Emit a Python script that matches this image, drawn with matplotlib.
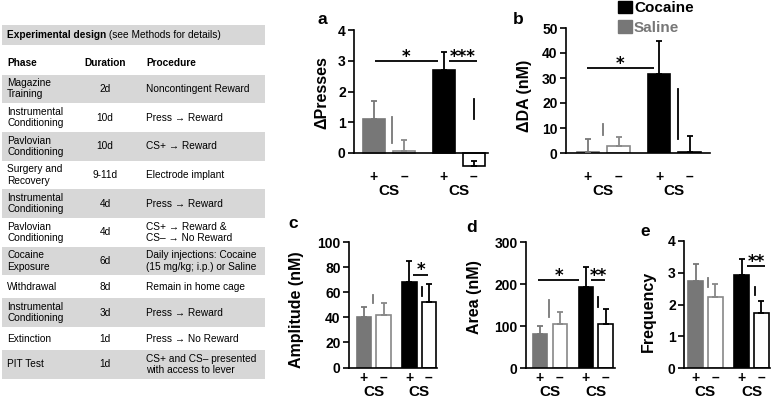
import matplotlib
matplotlib.use("Agg")
import matplotlib.pyplot as plt
import matplotlib.transforms as mtransforms
from matplotlib.patches import Patch, Rectangle
import numpy as np

plt.rcParams["font.family"] = ["Liberation Sans", "DejaVu Sans"]

# ---- table data ----
table_title = "Experimental design"
table_note = " (see Methods for details)"
headers = ["Phase", "Duration", "Procedure"]
phases = ["Magazine\nTraining", "Instrumental\nConditioning", "Pavlovian\nConditioning",
          "Surgery and\nRecovery", "Instrumental\nConditioning", "Pavlovian\nConditioning",
          "Cocaine\nExposure", "Withdrawal", "Instrumental\nConditioning", "Extinction",
          "PIT Test"]
durations = ["2d", "10d", "10d", "9-11d", "4d", "4d", "6d", "8d", "3d", "1d", "1d"]
procedures = ["Noncontingent Reward", "Press \u2192 Reward", "CS+ \u2192 Reward",
              "Electrode implant", "Press \u2192 Reward",
              "CS+ \u2192 Reward &\nCS\u2013 \u2192 No Reward",
              "Daily injections: Cocaine\n(15 mg/kg; i.p.) or Saline",
              "Remain in home cage", "Press \u2192 Reward", "Press \u2192 No Reward",
              "CS+ and CS\u2013 presented\nwith access to lever"]

# ---- bar data: Saline CS+, Saline CS-, Cocaine CS+, Cocaine CS- ----
cs_labels = ["+", "\u2013", "+", "\u2013"]
legend_labels = ["Cocaine", "Saline"]

presses = [1.1, 0.06, 2.7, -0.41]
presses_err = [0.58, 0.36, 0.57, 0.16]
da = [0.5, 2.9, 31.5, 0.3]
da_err = [5.1, 3.6, 13.3, 6.6]
amplitude = [40, 42, 68.5, 52.5]
amplitude_err = [8.6, 9.5, 16.5, 14]
area = [82, 105, 192, 105]
area_err = [19, 29, 49, 35]
frequency = [2.75, 2.23, 2.93, 1.74]
frequency_err = [0.52, 0.42, 0.49, 0.37]

# significance bars: (x_start, x_end, y, label)
sig_a = [(0.03, 2.13, 3.0, "*"), (2.5, 3.43, 3.0, "***")]
sig_b = [(-0.03, 2.16, 34, "*")]
sig_c = [(2.52, 3.28, 74, "*")]
sig_d = [(-0.1, 1.98, 209, "*"), (2.59, 3.3, 209, "**")]
sig_e = [(2.6, 3.5, 3.21, "**")]

# short vertical marks: (x, y_low, y_high)
marks_a = [(0.6, 0.32, 1.16), (3.33, 1.1, 1.77)]
marks_b = [(0.49, 7.2, 11.6), (2.95, 5.6, 25.6)]
marks_c = [(0.46, 51, 58), (2.97, 57, 64.5)]
marks_d = [(0.46, 121, 162), (2.94, 145, 169)]
marks_e = [(0.63, 2.56, 2.84), (3.0, 2.3, 2.54)]

xpos = np.array([0, 1, 2.33, 3.33])
face = ["#777777", "white", "black", "white"]
edge = ["#777777", "#888888", "black", "black"]
mark_col = ["#777777", "black"]

W, H = 776, 400
fig = plt.figure(figsize=(W / 100, H / 100), dpi=100)

# ---------------- table ----------------
tab = fig.add_axes([0, 0, 1, 1])
tab.set_xlim(0, W)
tab.set_ylim(H, 0)
tab.set_axis_off()
gray = "#d7d7d7"
fs = 7.3

tab.add_patch(Rectangle((2, 25), 263, 20, color=gray, lw=0))
t1 = tab.text(7, 35, table_title, fontsize=fs, fontweight="bold", va="center")
tab.annotate(table_note, xy=(1, 0), xycoords=t1, va="bottom", fontsize=fs)

tab.text(7, 63, headers[0], fontsize=fs, fontweight="bold", va="center")
tab.text(105, 63, headers[1], fontsize=fs, fontweight="bold", va="center", ha="center")
tab.text(146, 63, headers[2], fontsize=fs, fontweight="bold", va="center")

y = 74.5
for i in range(len(phases)):
    nl = max(phases[i].count("\n"), procedures[i].count("\n")) + 1
    h = 28.7 if nl == 2 else 23
    if i % 2 == 0:
        tab.add_patch(Rectangle((2, y), 263, h, color=gray, lw=0))
    yc = y + h / 2
    tab.text(7, yc, phases[i], fontsize=fs, va="center", linespacing=1.15)
    tab.text(105, yc, durations[i], fontsize=fs, va="center", ha="center")
    tab.text(146, yc, procedures[i], fontsize=fs, va="center", linespacing=1.15)
    y += h

# ---------------- bar panels ----------------
def panel(vals, errs, sig, marks, left, right, y0, ytop, ymax, ymin, c0, unit,
          yticks, ylabel, ylab_xy, letter, letter_xy, lab_y):
    ppu = (y0 - ytop) / ymax
    ybot = y0 + (0 - ymin) * ppu
    ax = fig.add_axes([left / W, 1 - ybot / H, (right - left) / W, (ybot - ytop) / H])
    ax.set_xlim((left - c0) / unit, (right - c0) / unit)
    ax.set_ylim(ymin, ymax)
    ax.patch.set_alpha(0)
    for k in range(4):
        ax.bar(xpos[k], vals[k], width=0.73, color=face[k], edgecolor=edge[k],
               linewidth=1.2, zorder=2)
        ax.errorbar(xpos[k], vals[k], yerr=[[0], [errs[k]]], fmt="none",
                    ecolor=edge[k] if k != 1 else "#888888", elinewidth=1.3,
                    capsize=2.5, capthick=1.3, zorder=3)
    for x1, x2, yy, s in sig:
        ax.plot([x1, x2], [yy, yy], color="black", lw=1.3, solid_capstyle="butt")
        ax.annotate(s, xy=((x1 + x2) / 2, yy), xytext=(0, -3.5), textcoords="offset points",
                    ha="center", va="bottom", fontsize=12, fontweight="bold",
                    family="DejaVu Sans")
    for k, (mx, lo, hi) in enumerate(marks):
        ax.plot([mx, mx], [lo, hi], color=mark_col[k], lw=1.3)
    for s in ["top", "right"]:
        ax.spines[s].set_visible(False)
    ax.spines["bottom"].set_position(("data", 0))
    ax.spines["left"].set_bounds(0, ymax)
    for s in ["left", "bottom"]:
        ax.spines[s].set_linewidth(1.2)
    ax.set_yticks(yticks)
    ax.set_xticks([])
    ax.tick_params(axis="y", length=4, width=1.2, pad=2, labelsize=10)
    for t in ax.get_yticklabels():
        t.set_fontweight("bold")
    tr = mtransforms.blended_transform_factory(ax.transData, fig.transFigure)
    for k in range(4):
        fig.text(xpos[k], 1 - lab_y / H, cs_labels[k], transform=tr, ha="center",
                 va="center", fontsize=10, fontweight="bold")
    for k in (0, 2):
        fig.text((xpos[k] + xpos[k + 1]) / 2, 1 - (lab_y + 14) / H, "CS", transform=tr,
                 ha="center", va="center", fontsize=11, fontweight="bold")
    fig.text(ylab_xy[0] / W, 1 - ylab_xy[1] / H, ylabel, rotation=90, ha="center",
             va="center", fontsize=11.5, fontweight="bold")
    fig.text(letter_xy[0] / W, 1 - letter_xy[1] / H, letter, ha="center", va="center",
             fontsize=12.5, fontweight="bold")
    return ax


panel(presses, presses_err, sig_a, marks_a, 354, 488, 153, 30, 4, -0.5, 374, 30,
      [0, 1, 2, 3, 4], "\u0394Presses", (322, 93), "a", (322, 20), 177)
panel(da, da_err, sig_b, marks_b, 566, 710, 153, 28, 50, 0, 588, 30.5,
      [0, 10, 20, 30, 40, 50], "\u0394DA (nM)", (525, 96), "b", (518, 20), 177)
panel(amplitude, amplitude_err, sig_c, marks_c, 349, 437, 367.5, 242, 100, 0, 364, 19.5,
      [0, 20, 40, 60, 80, 100], "Amplitude (nM)", (297, 310), "c", (293, 223), 378)
panel(area, area_err, sig_d, marks_d, 526, 615, 368, 242, 300, 0, 540, 19.7,
      [0, 100, 200, 300], "Area (nM)", (474, 297), "d", (472, 228), 378)
panel(frequency, frequency_err, sig_e, marks_e, 684, 770, 368, 241, 4, 0, 695.5, 19.8,
      [0, 1, 2, 3, 4], "Frequency", (648, 311), "e", (645, 232), 378)

handles = [Patch(facecolor="black", edgecolor="black"),
           Patch(facecolor="#777777", edgecolor="#777777")]
leg = fig.legend(handles, legend_labels, loc="upper left", bbox_to_anchor=(618 / W, 0.998),
                 frameon=False, handlelength=0.9, handleheight=0.9, handletextpad=0.15,
                 labelspacing=0.3, borderpad=0, borderaxespad=0,
                 prop={"weight": "bold", "size": 11})
leg.get_texts()[1].set_color("#777777")

fig.savefig("out.png", dpi=100)
